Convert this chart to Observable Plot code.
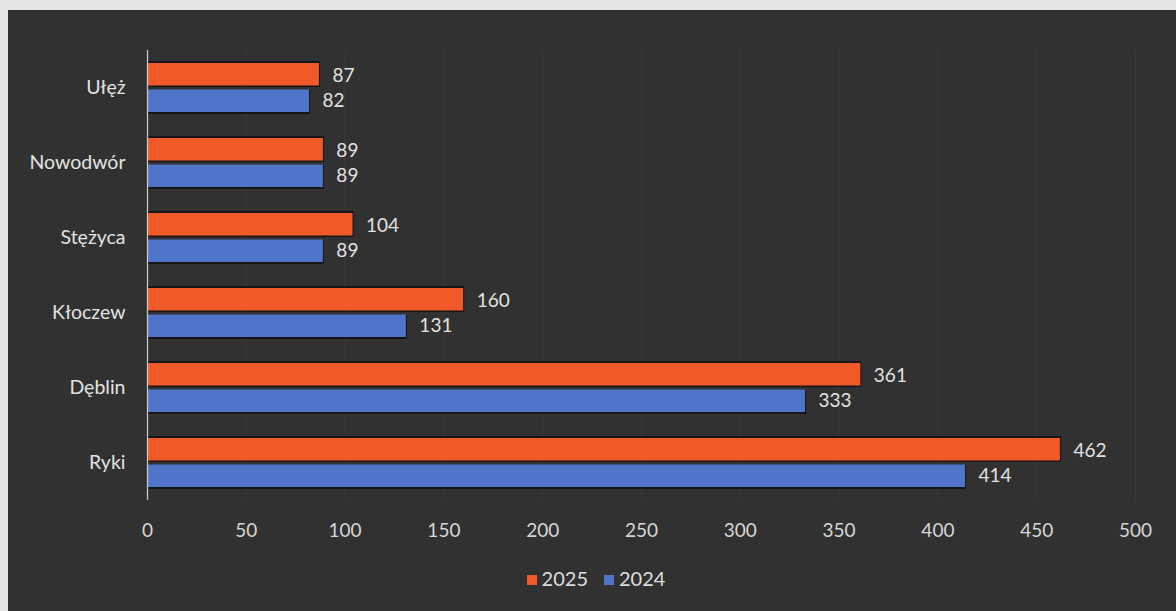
<!DOCTYPE html>
<html>
<head>
<meta charset="utf-8">
<script src="https://cdn.jsdelivr.net/npm/d3@7"></script>
<script src="https://cdn.jsdelivr.net/npm/@observablehq/plot@0.6"></script>
<style>
  html, body { margin: 0; padding: 0; background: #e4e4e2; width: 1176px; height: 611px; overflow: hidden; }
  #panel { position: absolute; left: 8px; top: 10px; width: 1168px; height: 601px; background: #313131; }
  #legend { position: absolute; left: 0; top: 556px; width: 1176px; text-align: center; font-family: Lato, "Open Sans", sans-serif; font-size: 20px; color: #dedede; }
  #legend span.sw { display: inline-block; width: 10px; height: 10px; margin-right: 5px; vertical-align: 1px; }
  #legend span.item { margin: 0 8px; }
</style>
</head>
<body>
<div id="panel"><div id="chart"></div><div id="legend"></div></div>
<script>
const towns = ["Ułęż", "Nowodwór", "Stężyca", "Kłoczew", "Dęblin", "Ryki"];
const values2025 = [87, 89, 104, 160, 361, 462];
const values2024 = [82, 89, 89, 131, 333, 414];
const xTicks = [0, 50, 100, 150, 200, 250, 300, 350, 400, 450, 500];
const seriesNames = ["2025", "2024"];
const seriesColors = ["#f05a29", "#4f74c8"];

const d25 = towns.map((t, i) => ({town: t, value: values2025[i]}));
const d24 = towns.map((t, i) => ({town: t, value: values2024[i]}));

const font = "Lato, 'Open Sans', sans-serif";
const chart = Plot.plot({
  width: 1168,
  height: 545,
  marginLeft: 139,
  marginRight: 41,
  marginTop: 40,
  marginBottom: 55,
  style: {background: "transparent", color: "#dedede", fontFamily: font, fontSize: "19px"},
  x: {domain: [0, 500], ticks: xTicks, label: null},
  y: {domain: towns, paddingInner: 0.34, paddingOuter: 0.17, label: null},
  marks: [
    Plot.gridX(xTicks.filter(d => d > 0), {stroke: "#3a3a3a", strokeOpacity: 1, strokeWidth: 1}),
    Plot.axisX({ticks: xTicks, tickSize: 0, tickPadding: 23, fill: "#d6d6d6", fontSize: 19, label: null}),
    Plot.axisY({tickSize: 0, tickPadding: 22, fill: "#e2e2e2", fontSize: 19.5, label: null}),
    Plot.barX(d25, {y: "town", x: "value", fill: "black", fillOpacity: 0.55, insetBottom: 25, insetTop: -2, dx: 1}),
    Plot.barX(d24, {y: "town", x: "value", fill: "black", fillOpacity: 0.55, insetTop: 27, insetBottom: -2, dx: 1}),
    Plot.barX(d25, {y: "town", x: "value", fill: seriesColors[0], insetBottom: 26.5}),
    Plot.barX(d24, {y: "town", x: "value", fill: seriesColors[1], insetTop: 26.5}),
    Plot.ruleX([0], {stroke: "#cfcfcf", strokeWidth: 1.2}),
    Plot.text(d25, {y: "town", x: "value", text: d => String(d.value), dy: -12.5, dx: 13, textAnchor: "start", fill: "#e2e2e2", fontSize: 19}),
    Plot.text(d24, {y: "town", x: "value", text: d => String(d.value), dy: 12.5, dx: 13, textAnchor: "start", fill: "#e2e2e2", fontSize: 19})
  ]
});
document.getElementById("chart").appendChild(chart);

const legend = document.getElementById("legend");
seriesNames.forEach((name, i) => {
  const item = document.createElement("span");
  item.className = "item";
  const sw = document.createElement("span");
  sw.className = "sw";
  sw.style.background = seriesColors[i];
  item.appendChild(sw);
  item.appendChild(document.createTextNode(name));
  legend.appendChild(item);
});
</script>
</body>
</html>
